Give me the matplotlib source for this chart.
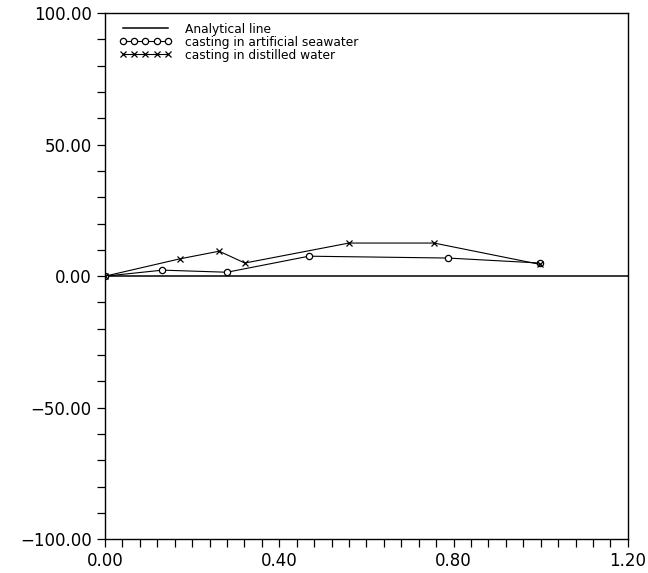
import matplotlib
matplotlib.use('Agg')
import matplotlib.pyplot as plt
from matplotlib.ticker import MultipleLocator, FuncFormatter

# analytical line (zero)
analytical_x = [0.0, 1.20]
analytical_y = [0.0, 0.0]

# casting in artificial seawater
sea_x = [0.0, 0.132, 0.280, 0.468, 0.787, 0.998]
sea_y = [0.0, 2.3, 1.5, 7.6, 6.9, 5.0]

# casting in distilled water
dist_x = [0.0, 0.172, 0.262, 0.321, 0.560, 0.755, 0.998]
dist_y = [0.0, 6.6, 9.5, 5.0, 12.6, 12.6, 4.5]


def fmt(v, pos):
    return ('%.2f' % v).replace('-', '\u2212')


fig = plt.figure(figsize=(6.48, 5.73), dpi=100)
ax = fig.add_axes([0.162, 0.059, 0.807, 0.918])

ax.plot(analytical_x, analytical_y, color='black', lw=1.1, label='Analytical line')
ax.plot(sea_x, sea_y, color='black', lw=0.8, marker='o', ms=4.5,
        mfc='white', mec='black', mew=0.9, label='casting in artificial seawater')
ax.plot(dist_x, dist_y, color='black', lw=0.8, marker='x', ms=4.5,
        mew=0.9, label='casting in distilled water')

ax.set_xlim(0, 1.20)
ax.set_ylim(-100, 100)
ax.xaxis.set_major_locator(MultipleLocator(0.40))
ax.xaxis.set_minor_locator(MultipleLocator(0.04))
ax.yaxis.set_major_locator(MultipleLocator(50))
ax.yaxis.set_minor_locator(MultipleLocator(10))
ax.xaxis.set_major_formatter(FuncFormatter(fmt))
ax.yaxis.set_major_formatter(FuncFormatter(fmt))

ax.tick_params(which='both', direction='out', top=False, right=False,
               width=0.9, labelsize=12, length=6)
for s in ax.spines.values():
    s.set_linewidth(1.0)

ax.legend(loc='upper left', bbox_to_anchor=(0.013, 0.996), frameon=False,
          fontsize=8.8, numpoints=5, handlelength=4.3, handletextpad=1.1,
          labelspacing=0.0, borderaxespad=0.3, borderpad=0.3)

fig.savefig('out.png', dpi=100)
